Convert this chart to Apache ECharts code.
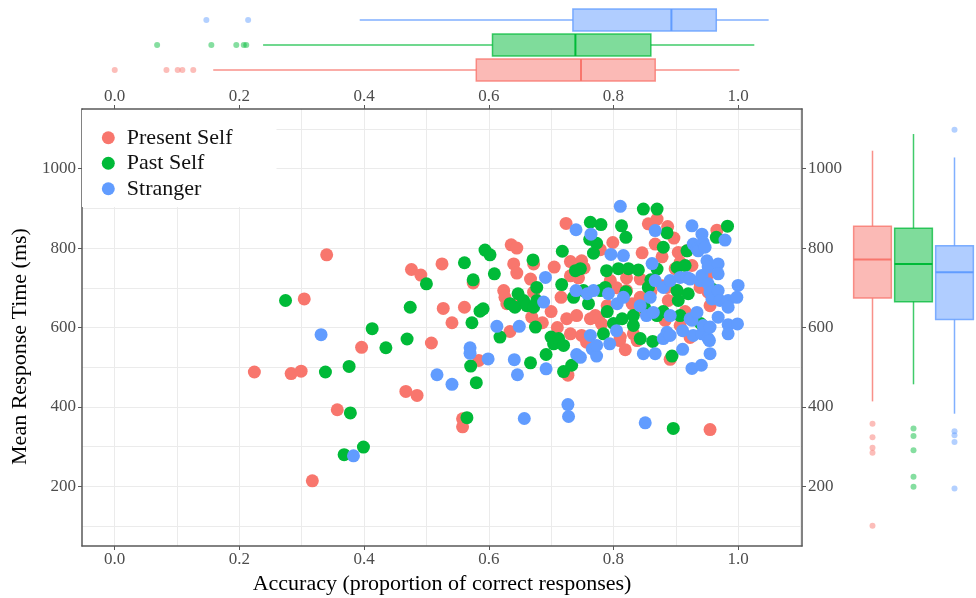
<!DOCTYPE html>
<html><head><meta charset="utf-8">
<script src="https://cdn.jsdelivr.net/npm/echarts@6/dist/echarts.min.js"></script>
<style>html,body{margin:0;padding:0;background:#fff}#c{width:976px;height:598px}</style>
</head><body><div id="c"></div>
<script>
// ---------------- data ----------------
const groups = ['Present Self', 'Past Self', 'Stranger'];
const xTicks = [0, 0.2, 0.4, 0.6, 0.8, 1.0];
const yTicks = [200, 400, 600, 800, 1000];

const presentSelf = [
[0.224,488],[0.283,484],[0.299,490],[0.304,672],[0.317,214],[0.340,783],[0.357,393],[0.396,550],
[0.467,439],[0.485,429],[0.476,746],[0.491,732],[0.508,561],[0.525,760],[0.527,648],[0.541,612],
[0.558,370],[0.558,350],[0.561,651],[0.575,712],[0.584,517],[0.624,693],[0.626,676],[0.629,660],
[0.634,590],[0.636,808],[0.645,800],[0.640,760],[0.645,737],[0.646,660],[0.650,668],[0.667,722],
[0.672,760],[0.672,689],[0.669,626],[0.700,640],[0.686,612],[0.705,752],[0.710,600],[0.716,676],
[0.724,862],[0.725,622],[0.727,480],[0.731,766],[0.731,730],[0.731,584],[0.741,630],[0.744,725],
[0.749,768],[0.753,750],[0.749,580],[0.757,563],[0.763,622],[0.771,630],[0.776,622],[0.781,609],
[0.779,796],[0.790,655],[0.795,718],[0.799,814],[0.805,700],[0.810,567],[0.811,576],[0.819,544],
[0.821,725],[0.821,693],[0.830,660],[0.832,584],[0.838,567],[0.843,722],[0.843,676],[0.846,788],
[0.851,638],[0.856,861],[0.860,690],[0.867,810],[0.870,873],[0.878,778],[0.878,705],[0.883,618],
[0.886,701],[0.887,854],[0.888,668],[0.891,520],[0.897,825],[0.899,748],[0.902,693],[0.904,789],
[0.907,764],[0.907,605],[0.915,640],[0.918,793],[0.923,575],[0.926,756],[0.939,714],[0.939,701],
[0.952,735],[0.952,689],[0.955,655],[0.955,343],[0.966,845]
];
const pastSelf = [
[0.274,668],[0.338,488],[0.368,280],[0.376,502],[0.378,385],[0.399,299],[0.413,597],[0.435,549],
[0.469,571],[0.474,651],[0.500,710],[0.561,763],[0.565,373],[0.571,503],[0.573,612],[0.575,720],
[0.580,461],[0.586,641],[0.591,647],[0.594,795],[0.602,783],[0.609,735],[0.618,576],[0.634,660],
[0.642,651],[0.647,685],[0.656,668],[0.661,655],[0.667,511],[0.671,770],[0.672,651],[0.677,668],
[0.677,701],[0.675,601],[0.692,532],[0.700,576],[0.704,559],[0.712,572],[0.718,792],[0.717,708],
[0.720,555],[0.720,489],[0.733,505],[0.736,676],[0.739,743],[0.747,748],[0.752,693],[0.760,660],
[0.763,865],[0.762,822],[0.768,787],[0.773,812],[0.779,693],[0.780,859],[0.784,584],[0.787,701],
[0.789,743],[0.790,640],[0.800,610],[0.808,748],[0.813,856],[0.814,622],[0.820,827],[0.820,690],
[0.824,748],[0.832,630],[0.832,605],[0.840,745],[0.843,572],[0.848,898],[0.850,650],[0.856,701],
[0.860,720],[0.863,565],[0.870,898],[0.870,747],[0.870,630],[0.880,802],[0.880,640],[0.886,838],
[0.894,528],[0.896,346],[0.902,751],[0.902,693],[0.904,668],[0.907,630],[0.915,756],[0.918,793],
[0.920,685],[0.940,610],[0.958,697],[0.960,676],[0.965,827],[0.983,855]
];
const stranger = [
[0.331,582],[0.383,277],[0.517,481],[0.541,457],[0.570,549],[0.570,535],[0.599,521],[0.613,603],
[0.641,519],[0.646,481],[0.649,603],[0.657,371],[0.688,664],[0.691,726],[0.692,496],[0.727,406],
[0.728,376],[0.740,846],[0.740,693],[0.741,532],[0.747,525],[0.758,685],[0.763,580],[0.764,835],
[0.766,546],[0.768,693],[0.773,528],[0.773,555],[0.792,685],[0.794,559],[0.796,784],[0.805,592],
[0.806,660],[0.811,905],[0.816,781],[0.816,676],[0.843,655],[0.848,534],[0.851,360],[0.853,630],
[0.859,676],[0.862,761],[0.864,638],[0.867,534],[0.867,844],[0.867,718],[0.880,572],[0.880,701],
[0.886,588],[0.891,580],[0.891,630],[0.891,718],[0.907,726],[0.911,545],[0.911,592],[0.918,726],
[0.923,722],[0.923,622],[0.926,856],[0.926,618],[0.926,497],[0.928,810],[0.928,580],[0.934,798],
[0.934,638],[0.936,793],[0.939,718],[0.941,505],[0.942,835],[0.942,731],[0.942,584],[0.944,814],
[0.944,605],[0.947,802],[0.950,768],[0.952,752],[0.952,710],[0.952,572],[0.954,567],[0.955,689],
[0.955,601],[0.955,534],[0.958,672],[0.968,760],[0.968,735],[0.968,693],[0.968,626],[0.971,668],
[0.979,820],[0.982,664],[0.984,668],[0.984,651],[0.984,607],[0.984,584],[0.998,676],[0.999,609],[1.0,706]
];

// marginal box plots: [lower whisker, Q1, median, Q3, upper whisker], per group
const accuracyBoxes = [
  [0.158, 0.580, 0.748, 0.867, 1.002],
  [0.238, 0.606, 0.739, 0.860, 1.026],
  [0.393, 0.735, 0.893, 0.965, 1.049]
];
const accuracyOutliers = [
  [0.0, 0.083, 0.101, 0.1085, 0.126],
  [0.068, 0.155, 0.195, 0.207, 0.211],
  [0.147, 0.214]
];
const rtBoxes = [
  [414, 674, 771, 855, 1045],
  [457, 665, 760, 850, 1087],
  [383, 620, 739, 806, 1028]
];
const rtOutliers = [
  [358, 324, 297, 285, 101],
  [346, 327, 291, 224, 199],
  [1098, 339, 329, 312, 195]
];

// ---------------- styles ----------------
const FONT = 'Liberation Serif';
const colors = ['#F8766D', '#00BA38', '#619CFF'];
const lineColors = ['rgba(248,118,109,0.8)', 'rgba(0,186,56,0.75)', 'rgba(97,156,255,0.8)'];
const fillColors = ['rgba(248,118,109,0.5)', 'rgba(0,186,56,0.5)', 'rgba(97,156,255,0.5)'];
const dotColors = ['rgba(248,118,109,0.6)', 'rgba(0,186,56,0.6)', 'rgba(97,156,255,0.6)'];
const axisLineStyle = { color: '#595959', width: 1.5 };
const gridLineStyle = { color: '#EBEBEB', width: 1 };
const xRange = { min: -0.0525, max: 1.1025 };
const yRange = { min: 50, max: 1150 };

function mainX(pos, margin) {
  return {
    type: 'value', gridIndex: 0, position: pos, min: xRange.min, max: xRange.max, splitNumber: 6,
    axisLine: { show: true, onZero: false, lineStyle: axisLineStyle },
    axisTick: { show: true, length: 4, customValues: xTicks, lineStyle: { color: '#595959', width: 1 } },
    axisLabel: { customValues: xTicks, margin: margin, color: '#4D4D4D', fontFamily: FONT, fontSize: 17,
      formatter: v => Number(v).toFixed(1) },
    splitLine: { show: pos === 'bottom', lineStyle: gridLineStyle },
    minorTick: { show: false, splitNumber: 2 },
    minorSplitLine: { show: pos === 'bottom', lineStyle: gridLineStyle },
    name: pos === 'bottom' ? 'Accuracy (proportion of correct responses)' : '',
    nameLocation: 'middle', nameGap: 22,
    nameTextStyle: { fontFamily: FONT, fontSize: 22, color: '#000' }
  };
}
function mainY(pos) {
  return {
    type: 'value', gridIndex: 0, position: pos, min: yRange.min, max: yRange.max, splitNumber: 5,
    axisLine: { show: true, onZero: false, lineStyle: axisLineStyle },
    axisTick: { show: true, length: 4, customValues: yTicks, lineStyle: { color: '#595959', width: 1 } },
    axisLabel: { customValues: yTicks, margin: 6, color: '#4D4D4D', fontFamily: FONT, fontSize: 17,
      formatter: v => String(Math.round(v)) },
    splitLine: { show: pos === 'left', lineStyle: gridLineStyle },
    minorTick: { show: false, splitNumber: 2 },
    minorSplitLine: { show: pos === 'left', lineStyle: gridLineStyle },
    name: pos === 'left' ? 'Mean Response Time (ms)' : '',
    nameLocation: 'middle', nameGap: 49,
    nameTextStyle: { fontFamily: FONT, fontSize: 22, color: '#000', padding: [0, 38, 0, 0] }
  };
}
const hidden = { axisLine: { show: false }, axisTick: { show: false }, axisLabel: { show: false }, splitLine: { show: false } };

function renderBox(horizontal) {
  return function (params, api) {
    const c = api.value(0);
    const vals = [1, 2, 3, 4, 5].map(i => api.value(i));
    const pt = v => horizontal ? api.coord([v, c]) : api.coord([c, v]);
    const band = horizontal ? api.size([0, 1])[1] : api.size([1, 0])[0];
    const half = band * (horizontal ? 0.44 : 0.46);
    const p = vals.map(pt);
    const stroke = lineColors[c];
    const ls = { stroke: stroke, lineWidth: 1.5, fill: null };
    let children;
    if (horizontal) {
      const y = p[0][1];
      children = [
        { type: 'line', shape: { x1: p[0][0], y1: y, x2: p[1][0], y2: y }, style: ls },
        { type: 'line', shape: { x1: p[3][0], y1: y, x2: p[4][0], y2: y }, style: ls },
        { type: 'rect', shape: { x: p[1][0], y: y - half, width: p[3][0] - p[1][0], height: 2 * half },
          style: { stroke: stroke, fill: fillColors[c], lineWidth: 1.5 } },
        { type: 'line', shape: { x1: p[2][0], y1: y - half, x2: p[2][0], y2: y + half },
          style: { stroke: colors[c], lineWidth: 2 } }
      ];
    } else {
      const x = p[0][0];
      children = [
        { type: 'line', shape: { x1: x, y1: p[0][1], x2: x, y2: p[1][1] }, style: ls },
        { type: 'line', shape: { x1: x, y1: p[3][1], x2: x, y2: p[4][1] }, style: ls },
        { type: 'rect', shape: { x: x - half, y: p[3][1], width: 2 * half, height: p[1][1] - p[3][1] },
          style: { stroke: stroke, fill: fillColors[c], lineWidth: 1.5 } },
        { type: 'line', shape: { x1: x - half, y1: p[2][1], x2: x + half, y2: p[2][1] },
          style: { stroke: colors[c], lineWidth: 2 } }
      ];
    }
    return { type: 'group', children: children };
  };
}

const scatterSets = [presentSelf, pastSelf, stranger];
const series = [];
scatterSets.forEach((d, i) => {
  series.push({
    name: groups[i], type: 'scatter', xAxisIndex: 0, yAxisIndex: 0, data: d,
    symbolSize: 13, itemStyle: { color: colors[i], opacity: 1 }, z: 3
  });
});
series.push({
  name: 'accBox', type: 'custom', xAxisIndex: 2, yAxisIndex: 2,
  renderItem: renderBox(true), encode: { x: [1, 2, 3, 4, 5], y: 0 },
  data: accuracyBoxes.map((b, i) => [i].concat(b))
});
series.push({
  name: 'accOut', type: 'scatter', xAxisIndex: 2, yAxisIndex: 2, symbolSize: 6,
  data: [].concat(...accuracyOutliers.map((arr, i) => arr.map(v => ({ value: [v, i], itemStyle: { color: dotColors[i] } }))))
});
series.push({
  name: 'rtBox', type: 'custom', xAxisIndex: 3, yAxisIndex: 3,
  renderItem: renderBox(false), encode: { x: 0, y: [1, 2, 3, 4, 5] },
  data: rtBoxes.map((b, i) => [i].concat(b))
});
series.push({
  name: 'rtOut', type: 'scatter', xAxisIndex: 3, yAxisIndex: 3, symbolSize: 6,
  data: [].concat(...rtOutliers.map((arr, i) => arr.map(v => ({ value: [i, v], itemStyle: { color: dotColors[i] } }))))
});

const option = {
  animation: false,
  backgroundColor: '#fff',
  grid: [
    { left: 82, top: 109, width: 720, height: 437, outerBoundsMode: 'none', containLabel: false },
    { left: 82, top: 7.5, width: 720, height: 75, outerBoundsMode: 'none', containLabel: false },
    { left: 852, top: 109, width: 123, height: 437, outerBoundsMode: 'none', containLabel: false }
  ],
  xAxis: [
    mainX('bottom', 5.5),
    mainX('top', 3.5),
    Object.assign({ type: 'value', gridIndex: 1, min: xRange.min, max: xRange.max }, hidden),
    Object.assign({ type: 'category', gridIndex: 2, data: groups, boundaryGap: true }, hidden)
  ],
  yAxis: [
    mainY('left'),
    mainY('right'),
    Object.assign({ type: 'category', gridIndex: 1, data: groups, boundaryGap: true }, hidden),
    Object.assign({ type: 'value', gridIndex: 2, min: yRange.min, max: yRange.max }, hidden)
  ],
  legend: {
    data: groups, orient: 'vertical', left: 82, top: 110,
    padding: [15, 44, 5.5, 19.8], itemGap: 0, itemWidth: 27, itemHeight: 13, icon: 'circle',
    backgroundColor: '#fff',
    textStyle: { fontFamily: FONT, fontSize: 22, color: '#111', lineHeight: 25.5 },
    selectedMode: false
  },
  series: series
};
const chart = echarts.init(document.getElementById('c'), null, { renderer: 'canvas' });
chart.setOption(option);
</script></body></html>
